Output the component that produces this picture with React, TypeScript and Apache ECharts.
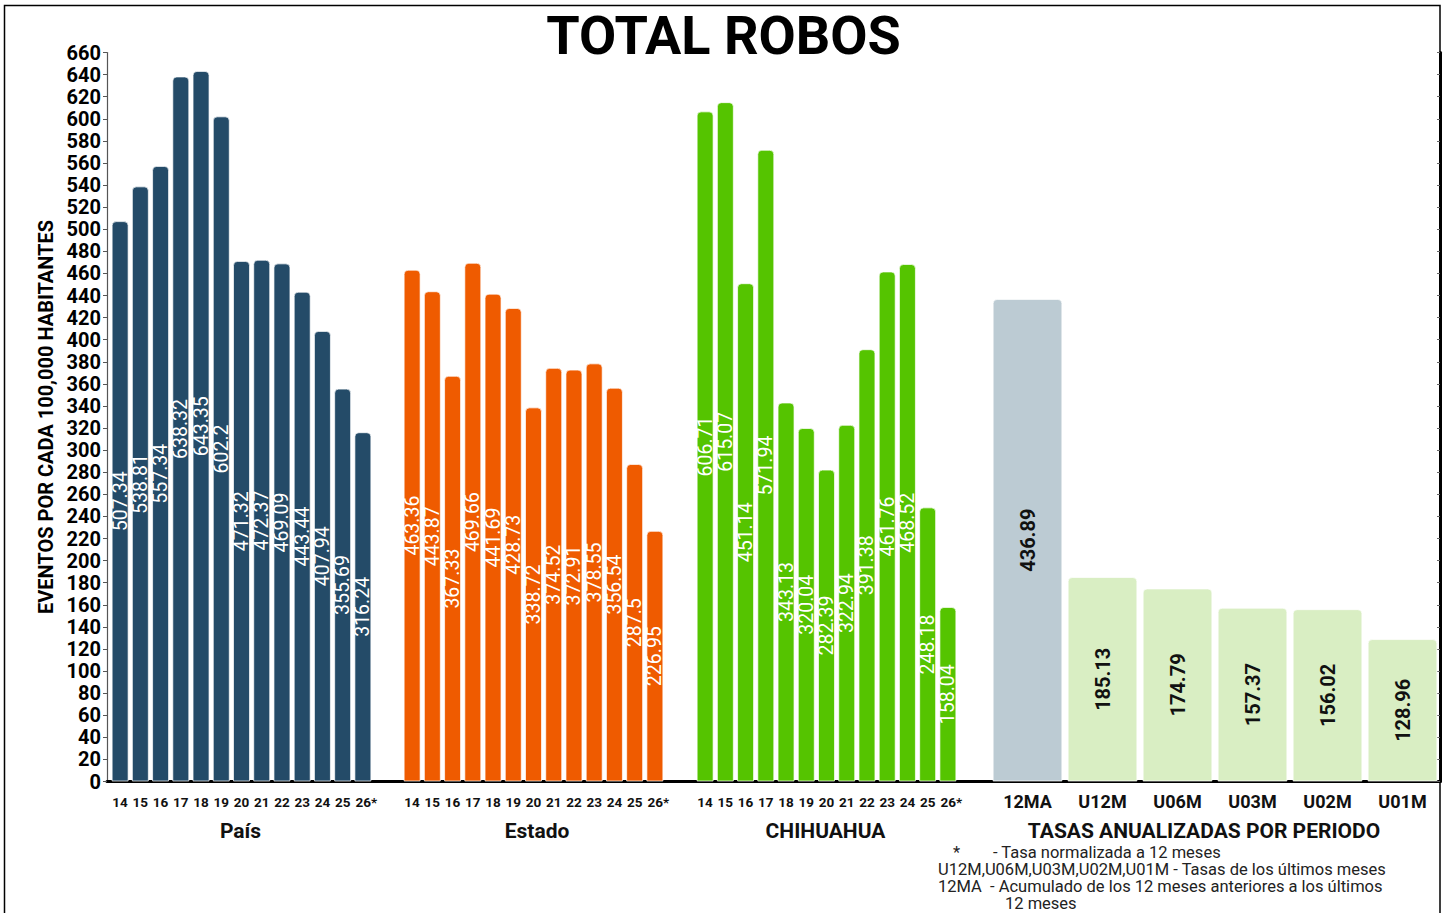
import React, { useEffect, useRef } from "react";
import * as echarts from "echarts";

const years = ["14", "15", "16", "17", "18", "19", "20", "21", "22", "23", "24", "25", "26*"];
const paisValues = [507.34, 538.81, 557.34, 638.32, 643.35, 602.2, 471.32, 472.37, 469.09, 443.44, 407.94, 355.69, 316.24];
const estadoValues = [463.36, 443.87, 367.33, 469.66, 441.69, 428.73, 338.72, 374.52, 372.91, 378.55, 356.54, 287.5, 226.95];
const chihValues = [606.71, 615.07, 451.14, 571.94, 343.13, 320.04, 282.39, 322.94, 391.38, 461.76, 468.52, 248.18, 158.04];
const tasaCats = ["12MA", "U12M", "U06M", "U03M", "U02M", "U01M"];
const tasaValues = [436.89, 185.13, 174.79, 157.37, 156.02, 128.96];
const groupNames = ["País", "Estado", "CHIHUAHUA", "TASAS ANUALIZADAS POR PERIODO"];
const footnotes = [
  "*",
  "- Tasa normalizada a 12 meses",
  "U12M,U06M,U03M,U02M,U01M - Tasas de los últimos meses",
  "12MA  - Acumulado de los 12 meses anteriores a los últimos",
  "12 meses",
];

const FONT = "Roboto";
const TOP = 52.5;
const BOTTOM = 131.5;

export default function App() {
  const ref = useRef<HTMLDivElement>(null);
  useEffect(() => {
    if (!ref.current) return;
    const chart = echarts.init(ref.current, undefined, { renderer: "svg" });

    const subGrids = [
      { left: 110, width: 263 },
      { left: 402, width: 263 },
      { left: 695, width: 263 },
      { left: 990, width: 450 },
    ];

    const grids: any[] = [
      { left: 107, right: 7, top: TOP, bottom: BOTTOM },
      ...subGrids.map((g) => ({ left: g.left, width: g.width, top: TOP, bottom: BOTTOM })),
    ];

    const hiddenY = (i: number) => ({
      type: "value",
      gridIndex: i,
      min: 0,
      max: 660,
      interval: 20,
      show: false,
    });

    const catX = (i: number, data: string[], name: string, big: boolean, shift: number) => ({
      type: "category",
      gridIndex: i,
      data,
      axisLine: { show: false },
      axisTick: { show: false },
      axisLabel: {
        color: "#111",
        fontFamily: FONT,
        fontWeight: "bold",
        fontSize: big ? 18 : 13.5,
        margin: big ? 11 : 13,
        interval: 0,
        formatter: (v: string) => (v.indexOf("*") >= 0 ? `{s|${v}}` : v),
        rich: {
          s: {
            color: "#111",
            fontFamily: FONT,
            fontWeight: "bold",
            fontSize: 13.5,
            padding: [0, 0, 0, 7],
          },
        },
      },
      name,
      nameLocation: "middle",
      nameGap: 39,
      nameTextStyle: {
        color: "#111",
        fontFamily: FONT,
        fontWeight: "bold",
        fontSize: 21,
        padding: shift > 0 ? [0, shift, 0, 0] : [0, 0, 0, -shift],
      },
    });

    const barSeries = (i: number, data: number[], color: string | string[], dark: boolean, gap: string) => ({
      type: "bar",
      xAxisIndex: i + 1,
      yAxisIndex: i + 1,
      data: data.map((v, k) => ({
        value: v,
        itemStyle: { color: Array.isArray(color) ? color[k] : color },
      })),
      barCategoryGap: gap,
      itemStyle: {
        borderRadius: [4, 4, 0, 0],
        borderColor: "rgba(255,255,255,0.7)",
        borderWidth: 1,
      },
      label: {
        show: true,
        position: "inside",
        rotate: 90,
        color: dark ? "#111" : "#fff",
        fontFamily: FONT,
        fontWeight: dark ? "bold" : "normal",
        fontSize: dark ? 20 : 19.5,
      },
    });

    const tasaColors = tasaValues.map((_, k) => (k === 0 ? "#bccbd3" : "#d9eec3"));

    const noteStyle = (t: string) => ({
      text: t,
      font: `16.5px ${FONT}`,
      lineHeight: 15,
      fill: "#222",
      verticalAlign: "top",
    });

    chart.setOption({
      animation: false,
      textStyle: { fontFamily: FONT },
      title: {
        text: "TOTAL ROBOS",
        left: "center",
        top: 3,
        textStyle: { fontFamily: FONT, fontWeight: "bold", fontSize: 54, color: "#000" },
      },
      grid: grids,
      xAxis: [
        {
          type: "value",
          gridIndex: 0,
          min: 0,
          max: 1,
          axisLine: { show: true, onZero: false, lineStyle: { color: "#000", width: 3 } },
          axisTick: { show: false },
          axisLabel: { show: false },
          splitLine: { show: false },
        },
        catX(1, years, groupNames[0], false, 2),
        catX(2, years, groupNames[1], false, -7),
        catX(3, years, groupNames[2], false, 2),
        catX(4, tasaCats, groupNames[3], true, 22),
      ],
      yAxis: [
        {
          type: "value",
          gridIndex: 0,
          min: 0,
          max: 660,
          interval: 20,
          position: "left",
          axisLine: { show: true, lineStyle: { color: "#555", width: 1.2 } },
          axisTick: { show: true, length: 4, lineStyle: { color: "#555" } },
          axisLabel: {
            color: "#000",
            fontFamily: FONT,
            fontWeight: "bold",
            fontSize: 20,
            margin: 6,
          },
          splitLine: { show: false },
          name: "EVENTOS POR CADA 100,000 HABITANTES",
          nameLocation: "middle",
          nameGap: 45,
          nameTextStyle: { color: "#000", fontFamily: FONT, fontWeight: "bold", fontSize: 20 },
        },
        hiddenY(1),
        hiddenY(2),
        hiddenY(3),
        hiddenY(4),
        {
          type: "value",
          gridIndex: 0,
          min: 0,
          max: 660,
          interval: 20,
          position: "right",
          axisLine: { show: true, lineStyle: { color: "#000", width: 3 } },
          axisTick: { show: true, inside: true, length: 3, lineStyle: { color: "#666" } },
          axisLabel: { show: false },
          splitLine: { show: false },
        },
      ],
      series: [
        barSeries(0, paisValues, "#244b68", false, "16%"),
        barSeries(1, estadoValues, "#ef5b00", false, "16%"),
        barSeries(2, chihValues, "#55c400", false, "16%"),
        barSeries(3, tasaValues, tasaColors, true, "7%"),
      ],
      graphic: [
        {
          type: "rect",
          silent: true,
          shape: { x: 4.5, y: 5.5, width: 1435.5, height: 930 },
          style: { fill: "none", stroke: "#000", lineWidth: 1.5 },
        },
        { type: "text", x: 953, y: 845, style: noteStyle(footnotes[0]) },
        { type: "text", x: 993, y: 845, style: noteStyle(footnotes[1]) },
        { type: "text", x: 938, y: 862, style: noteStyle(footnotes[2]) },
        { type: "text", x: 938, y: 879, style: noteStyle(footnotes[3]) },
        { type: "text", x: 1005, y: 896, style: noteStyle(footnotes[4]) },
      ],
    });

    return () => chart.dispose();
  }, []);

  return (
    <div
      ref={ref}
      style={{ position: "fixed", left: 0, top: 0, width: 1447, height: 913, background: "#fff" }}
    />
  );
}
